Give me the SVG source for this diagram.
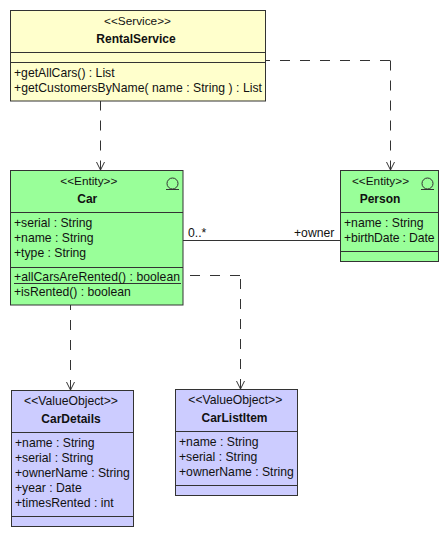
<svg xmlns="http://www.w3.org/2000/svg" width="448" height="536" viewBox="0 0 448 536">
<style>
text{font-family:"Liberation Sans",Arial,sans-serif;font-size:12.2px;fill:#111}
.c{text-anchor:middle}
.s{font-size:11.8px}
.b{font-weight:bold;font-size:12px}
.box{stroke:#333;stroke-width:1}
.y{fill:#ffffcc}.g{fill:#99ff99}.v{fill:#ccccff}
.l{stroke:#333;stroke-width:1;fill:none}
.d{stroke-dasharray:10 10}
.a{stroke:#333;stroke-width:1;fill:none}
</style>
<rect width="448" height="536" fill="#fff"/>
<g id="connectors">
<path class="l d" d="M100.500 100.500V170"/><path class="a" d="M96.500 162L100.500 170L104.500 162"/>
<path class="l d" style="stroke-dashoffset:6" d="M266 60.500H390.500"/><path class="l d" d="M390.500 60.500V170"/><path class="a" d="M386.500 162L390.500 170L394.500 162"/>
<path class="l" d="M183 240.500H340"/>
<path class="l d" d="M190 275.500H240.500"/><path class="l d" d="M240.500 279V389"/><path class="a" d="M236.500 381L240.500 389L244.500 381"/>
<path class="l d" style="stroke-dashoffset:5" d="M70.500 305V390"/><path class="a" d="M66.500 382L70.500 390L74.500 382"/>
<text x="188" y="237">0..*</text>
<text x="294" y="237">+owner</text>
</g>
<g id="RentalService">
<rect class="box y" x="10.500" y="10.500" width="255" height="90.500"/>
<path class="l" d="M10.500 52.500H265.500M10.500 62.500H265.500"/>
<text class="c s" x="137.500" y="25">&lt;&lt;Service&gt;&gt;</text>
<text class="c b" x="136" y="43">RentalService</text>
<text x="14" y="77">+getAllCars() : List</text>
<text x="14" y="92" textLength="248">+getCustomersByName( name : String ) : List</text>
</g>
<g id="Car">
<rect class="box g" x="10.500" y="170.500" width="172.500" height="134.500"/>
<path class="l" d="M10.500 212.500H183M10.500 267.500H183M14 283.500H181"/>
<circle class="l" cx="172.500" cy="183.500" r="5.500"/><path class="l" d="M166 189.500H179"/>
<text class="c s" x="88.800" y="185">&lt;&lt;Entity&gt;&gt;</text>
<text class="c b" x="87.300" y="203">Car</text>
<text x="14" y="227">+serial : String</text>
<text x="14" y="242">+name : String</text>
<text x="14" y="257">+type : String</text>
<text x="14" y="281" textLength="166">+allCarsAreRented() : boolean</text>
<text x="14" y="296">+isRented() : boolean</text>
</g>
<g id="Person">
<rect class="box g" x="340.500" y="170.500" width="98" height="91"/>
<path class="l" d="M340.500 212.500H438.500M340.500 251.500H438.500"/>
<circle class="l" cx="427.500" cy="183.500" r="5.500"/><path class="l" d="M421 189.500H434"/>
<text class="c s" x="380.500" y="185">&lt;&lt;Entity&gt;&gt;</text>
<text class="c b" x="380" y="203">Person</text>
<text x="344" y="227">+name : String</text>
<text x="344" y="242" textLength="90.500">+birthDate : Date</text>
</g>
<g id="CarDetails">
<rect class="box v" x="11.500" y="390.500" width="122" height="136"/>
<path class="l" d="M11.500 432.500H133.500M11.500 516.500H133.500"/>
<text class="c" x="71" y="405">&lt;&lt;ValueObject&gt;&gt;</text>
<text class="c b" x="71" y="423">CarDetails</text>
<text x="15" y="446.500">+name : String</text>
<text x="15" y="461.500">+serial : String</text>
<text x="15" y="476.500">+ownerName : String</text>
<text x="15" y="491.500">+year : Date</text>
<text x="15" y="506.500">+timesRented : int</text>
</g>
<g id="CarListItem">
<rect class="box v" x="175.500" y="389.500" width="122" height="106"/>
<path class="l" d="M175.500 431.500H297.500M175.500 485.500H297.500"/>
<text class="c" x="235.300" y="404">&lt;&lt;ValueObject&gt;&gt;</text>
<text class="c b" x="234.500" y="422">CarListItem</text>
<text x="179" y="446">+name : String</text>
<text x="179" y="461">+serial : String</text>
<text x="179" y="476">+ownerName : String</text>
</g>
</svg>
